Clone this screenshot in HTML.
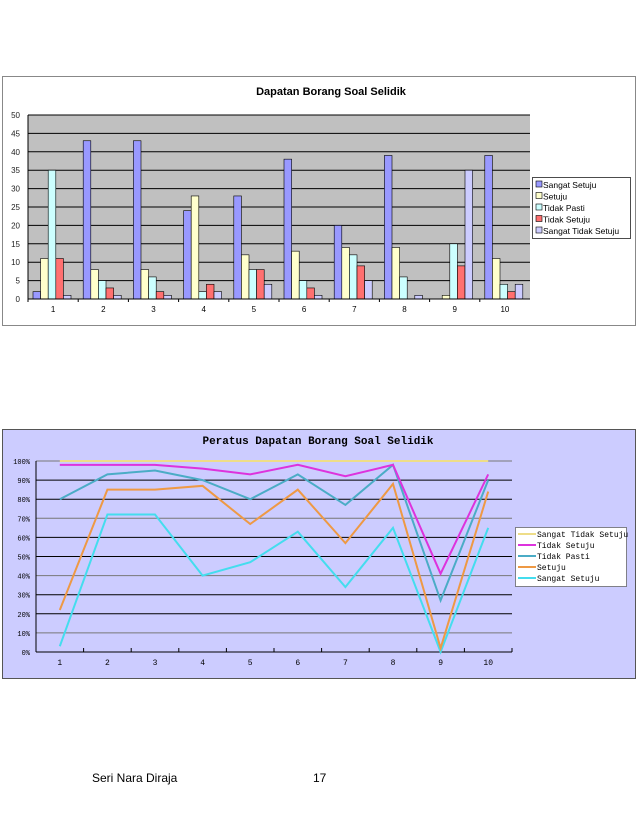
<!DOCTYPE html>
<html><head><meta charset="utf-8"><style>
body{margin:0;background:#fff;width:638px;height:825px;overflow:hidden;font-family:"Liberation Sans",sans-serif;}
svg{position:absolute;left:0;top:0}
.foot{position:absolute;top:771px;font-size:12px;color:#000}
</style></head><body>
<svg id="c1" width="638" height="340" style="top:0"></svg>
<svg id="c2" width="638" height="700" style="top:0"></svg>
<div class="foot" style="left:92px">Seri Nara Diraja</div>
<div class="foot" style="left:313px">17</div>
<script>
const NS="http://www.w3.org/2000/svg";
function mk(p,t,a){const e=document.createElementNS(NS,t);for(const k in a)e.setAttribute(k,a[k]);p.appendChild(e);return e;}
// ---- Chart 1 data ----
const categories=["1","2","3","4","5","6","7","8","9","10"];
const seriesNames=["Sangat Setuju","Setuju","Tidak Pasti","Tidak Setuju","Sangat Tidak Setuju"];
const sangatSetuju=[2,43,43,24,28,38,20,39,0,39];
const setuju=[11,8,8,28,12,13,14,14,1,11];
const tidakPasti=[35,5,6,2,8,5,12,6,15,4];
const tidakSetuju=[11,3,2,4,8,3,9,0,9,2];
const sangatTidakSetuju=[1,1,1,2,4,1,5,1,35,4];
const yTicks=[0,5,10,15,20,25,30,35,40,45,50];
// ---- Chart 2 data (cumulative %) ----
const pSangatSetuju=[3,72,72,40,47,63,34,65,0,65];
const pSetuju=[22,85,85,87,67,85,57,88,2,84];
const pTidakPasti=[80,93,95,90,80,93,77,98,27,90];
const pTidakSetuju=[98,98,98,96,93,98,92,98,41,93];
const pSangatTidakSetuju=[100,100,100,100,100,100,100,100,100,100];
const pTicks=[0,10,20,30,40,50,60,70,80,90,100];

// Chart 1
(function(){
const s=document.getElementById('c1');
mk(s,'rect',{x:2.5,y:76.5,width:633,height:249,fill:'#fff',stroke:'#888'});
const t=mk(s,'text',{x:331,y:95,'font-size':11,'font-weight':'bold','text-anchor':'middle'});t.textContent="Dapatan Borang Soal Selidik";

const L=28,R=530,T=115,B=299,max=50;
const y=v=>B-(v/max)*(B-T);
const gw=(R-L)/categories.length;
const x=i=>L+gw*i;
mk(s,'rect',{x:L,y:T,width:R-L,height:B-T,fill:'#c0c0c0'});
yTicks.forEach(v=>{
  const gl=mk(s,'line',{x1:L,x2:R,y1:y(v),y2:y(v),stroke:'#000','stroke-width':1});
  
  const lb=mk(s,'text',{x:L-8,y:y(v)+3,'font-size':8,'text-anchor':'end',fill:'#222'});lb.textContent=v;
  
});
const data=[sangatSetuju,setuju,tidakPasti,tidakSetuju,sangatTidakSetuju];
const cols=['#9999ff','#ffffcc','#ccffff','#ff7070','#ccccff'];
const bw=7.6;
data.forEach((ser,si)=>{ser.forEach((v,i)=>{
  const bx=x(i)+5+si*bw;
  const r=mk(s,'rect',{x:bx,y:y(v),width:bw,height:B-y(v),fill:cols[si],stroke:'#000','stroke-width':0.6});
  
  
});});
mk(s,'line',{x1:L,x2:R,y1:B,y2:B,stroke:'#000'});
mk(s,'line',{x1:L,x2:L,y1:T,y2:B,stroke:'#000'});
categories.forEach((c,i)=>{
  mk(s,'line',{x1:x(i),x2:x(i),y1:B,y2:B+3,stroke:'#000'});
  const lb=mk(s,'text',{x:x(i)+gw/2,y:312,'font-size':8,'text-anchor':'middle'});lb.textContent=c;
  
});
const lg=mk(s,'g',{});
mk(lg,'rect',{x:532.5,y:177.5,width:98,height:61,fill:'#fff',stroke:'#000','stroke-width':0.7});
seriesNames.forEach((n,i)=>{
  const e=mk(lg,'g',{});
  mk(e,'rect',{x:536,y:181+i*11.5,width:6,height:6,fill:cols[i],stroke:'#000','stroke-width':0.6});
  const tx=mk(e,'text',{x:543,y:188+i*11.5,'font-size':8.5});tx.textContent=n;
});
})();

// Chart 2
(function(){
const s=document.getElementById('c2');
mk(s,'rect',{x:2.5,y:429.5,width:633,height:249,fill:'#ccccff',stroke:'#555'});
const t=mk(s,'text',{x:318,y:444,'font-size':11,'font-family':'Liberation Mono,monospace','font-weight':'bold','text-anchor':'middle'});t.textContent="Peratus Dapatan Borang Soal Selidik";

const L=36,R=512,T=461,B=652;
const y=v=>B-(v/100)*(B-T);
const cw=(R-L)/categories.length;
const x=i=>L+cw*(i+0.5);
pTicks.forEach((v,k)=>{
  const gl=mk(s,'line',{x1:L,x2:R,y1:y(v),y2:y(v),stroke:(v==100||k%3==1)?'#777':'#000','stroke-width':1});
  
  const lb=mk(s,'text',{x:L-6,y:y(v)+3,'font-size':7,'font-family':'Liberation Mono,monospace','text-anchor':'end'});lb.textContent=v+'%';
  
});
mk(s,'line',{x1:L,x2:L,y1:T,y2:B,stroke:'#000'});
mk(s,'line',{x1:L,x2:R,y1:B,y2:B,stroke:'#000'});
categories.forEach((c,i)=>{
  mk(s,'line',{x1:L+cw*(i+1),x2:L+cw*(i+1),y1:B-4,y2:B,stroke:'#000'});
  const lb=mk(s,'text',{x:x(i),y:665,'font-size':8,'font-family':'Liberation Mono,monospace','text-anchor':'middle'});lb.textContent=c;
  
});
const names=["Sangat Tidak Setuju","Tidak Setuju","Tidak Pasti","Setuju","Sangat Setuju"];
const series=[pSangatSetuju,pSetuju,pTidakPasti,pTidakSetuju,pSangatTidakSetuju];
const cols=['#44ddee','#ee9944','#4bacc6','#dd33dd','#eedd88'];
series.forEach((ser,si)=>{
  const p=mk(s,'polyline',{points:ser.map((v,i)=>x(i)+','+y(v)).join(' '),fill:'none',stroke:cols[si],'stroke-width':2});
  
  
});
const lg=mk(s,'g',{});
mk(lg,'rect',{x:515.5,y:527.5,width:111,height:59,fill:'#fff',stroke:'#555','stroke-width':0.7});
const lc=['#eedd88','#dd33dd','#4bacc6','#ee9944','#44ddee'];
names.forEach((n,i)=>{
  const e=mk(lg,'g',{});
  mk(e,'line',{x1:518,x2:536,y1:534+i*11,y2:534+i*11,stroke:lc[i],'stroke-width':2});
  const tx=mk(e,'text',{x:537,y:537+i*11,'font-size':8,'font-family':'Liberation Mono,monospace'});tx.textContent=n;
});
})();
</script>
</body></html>
